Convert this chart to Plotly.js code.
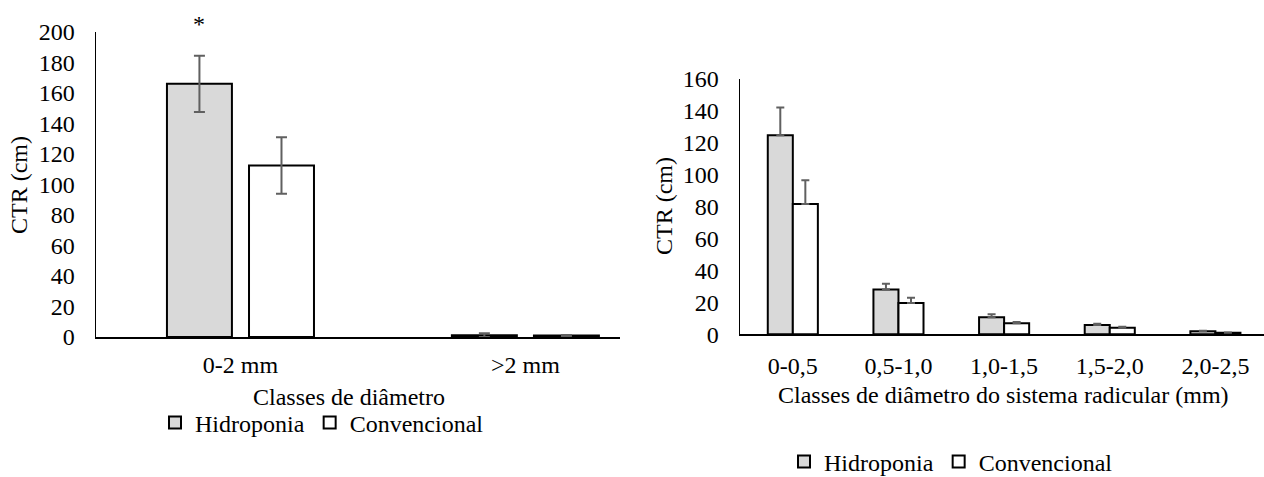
<!DOCTYPE html>
<html>
<head>
<meta charset="utf-8">
<script src="https://cdn.plot.ly/plotly-3.0.1.min.js"></script>
<style>html,body{margin:0;padding:0;background:#fff;}#chart{width:1264px;height:477px;}</style>
</head>
<body>
<div id="chart"></div>
<script>
// Left panel data
const leftCats = ['0-2 mm', '>2 mm'];
const leftHidro = [166, 1.2];
const leftHidroErr = [18.5, 1.2];
const leftConv = [112.5, 1.0];
const leftConvErr = [18.5, 0.3];

// Right panel data
const rightCats = ['0-0,5', '0,5-1,0', '1,0-1,5', '1,5-2,0', '2,0-2,5'];
const rightHidro = [124.8, 28.0, 10.7, 5.8, 1.9];
const rightHidroErr = [17.3, 3.7, 1.8, 0.8, 0.4];
const rightConv = [81.7, 19.6, 6.9, 4.1, 1.0];
const rightConvErr = [14.9, 3.3, 0.8, 0.6, 0.2];

const seriesNames = ['Hidroponia', 'Convencional'];

const FONT = "'Liberation Serif', 'Times New Roman', Tinos, serif";
const FS = 24;
const GRAY = '#d9d9d9';
const ERRC = '#606060';

const traces = [
  {type:'bar', name:seriesNames[0], x:leftCats, y:leftHidro, xaxis:'x', yaxis:'y',
   width:0.228, offset:-0.258,
   marker:{color:GRAY, line:{color:'#000', width:2}},
   error_y:{type:'data', array:leftHidroErr, visible:true, color:ERRC, thickness:2, width:5.5},
   legend:'legend', hoverinfo:'skip'},
  {type:'bar', name:seriesNames[1], x:leftCats, y:leftConv, xaxis:'x', yaxis:'y',
   width:0.228, offset:0.030,
   marker:{color:'#ffffff', line:{color:'#000', width:2}},
   error_y:{type:'data', array:leftConvErr, visible:true, color:ERRC, thickness:2, width:5.5},
   legend:'legend', hoverinfo:'skip'},
  {type:'bar', name:seriesNames[0], x:rightCats, y:rightHidro, xaxis:'x2', yaxis:'y2',
   width:0.237, offset:-0.237,
   marker:{color:GRAY, line:{color:'#000', width:2}},
   error_y:{type:'data', symmetric:false, array:rightHidroErr, arrayminus:rightHidroErr.map(()=>0), visible:true, color:ERRC, thickness:2, width:4},
   legend:'legend2', hoverinfo:'skip'},
  {type:'bar', name:seriesNames[1], x:rightCats, y:rightConv, xaxis:'x2', yaxis:'y2',
   width:0.237, offset:0,
   marker:{color:'#ffffff', line:{color:'#000', width:2}},
   error_y:{type:'data', symmetric:false, array:rightConvErr, arrayminus:rightConvErr.map(()=>0), visible:true, color:ERRC, thickness:2, width:4},
   legend:'legend2', hoverinfo:'skip'}
];

const W = 1264, H = 477;
const px = v => v / W;
const py = v => 1 - v / H;

const axisCommon = {
  showgrid:false, zeroline:false, showline:true, linecolor:'#000', ticks:'',
  tickfont:{family:FONT, size:FS, color:'#000'}, fixedrange:true
};

const layout = {
  width:W, height:H,
  margin:{l:0, r:0, t:0, b:0, autoexpand:false},
  paper_bgcolor:'#fff', plot_bgcolor:'rgba(0,0,0,0)',
  font:{family:FONT, size:FS, color:'#000'},
  barmode:'group',
  xaxis:Object.assign({}, axisCommon, {domain:[px(96), px(620)], range:[-0.507, 1.332], type:'category', linewidth:2, anchor:'y', ticklabelstandoff:5}),
  yaxis:Object.assign({}, axisCommon, {domain:[py(337), py(32)], range:[0, 200], dtick:20, linewidth:1.5, anchor:'x', ticklabelstandoff:15}),
  xaxis2:Object.assign({}, axisCommon, {domain:[px(740), 1], range:[-0.5, 4.46], type:'category', linewidth:1.5, anchor:'y2', ticklabelstandoff:9}),
  yaxis2:Object.assign({}, axisCommon, {domain:[py(334.3), py(79)], range:[0, 160], dtick:20, linewidth:1.5, anchor:'x2', ticklabelstandoff:15}),
  legend:{orientation:'h', x:px(155), xanchor:'left', y:py(423), yanchor:'middle',
          font:{family:FONT, size:FS, color:'#000'}, bgcolor:'rgba(0,0,0,0)', itemclick:false, itemdoubleclick:false},
  legend2:{orientation:'h', x:px(784), xanchor:'left', y:py(462), yanchor:'middle',
          font:{family:FONT, size:FS, color:'#000'}, bgcolor:'rgba(0,0,0,0)', itemclick:false, itemdoubleclick:false},
  annotations:[
    {xref:'paper', yref:'paper', x:px(349), y:py(397), xanchor:'center', yanchor:'middle', showarrow:false,
     text:'Classes de diâmetro', font:{family:FONT, size:FS, color:'#000'}},
    {xref:'paper', yref:'paper', x:px(1003), y:py(395), xanchor:'center', yanchor:'middle', showarrow:false,
     text:'Classes de diâmetro do sistema radicular (mm)', font:{family:FONT, size:FS, color:'#000'}},
    {xref:'paper', yref:'paper', x:px(19), y:py(185), xanchor:'center', yanchor:'middle', showarrow:false, textangle:-90,
     text:'CTR (cm)', font:{family:FONT, size:FS, color:'#000'}},
    {xref:'paper', yref:'paper', x:px(664), y:py(206), xanchor:'center', yanchor:'middle', showarrow:false, textangle:-90,
     text:'CTR (cm)', font:{family:FONT, size:FS, color:'#000'}},
    {xref:'x', yref:'paper', x:leftCats[0], xshift:-41, y:py(24), xanchor:'center', yanchor:'middle', showarrow:false,
     text:'*', font:{family:FONT, size:FS, color:'#000'}}
  ]
};

Plotly.newPlot('chart', traces, layout, {staticPlot:true, displayModeBar:false});
</script>
</body>
</html>
